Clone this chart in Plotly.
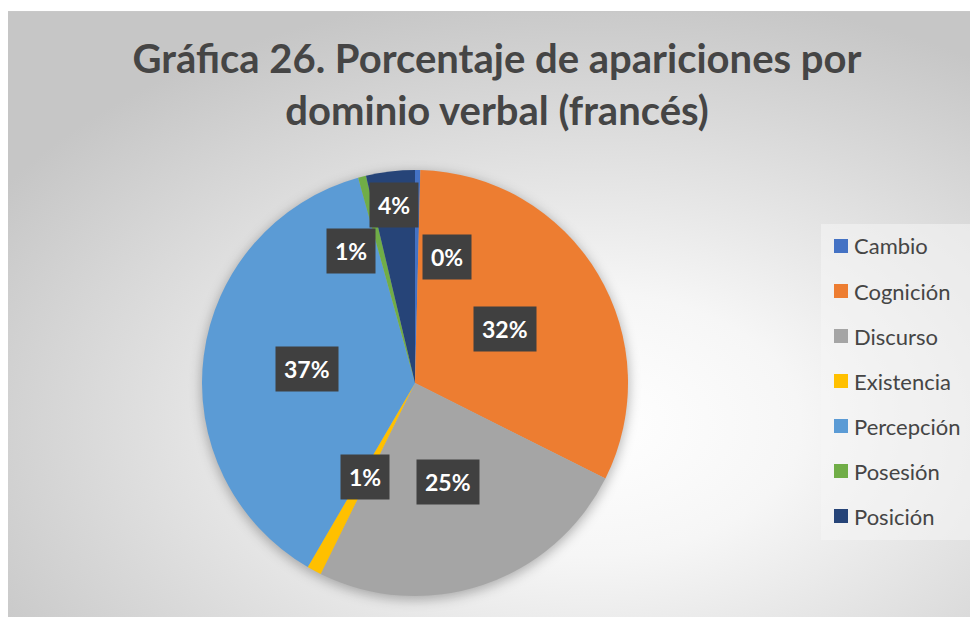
import base64
import math
import plotly.graph_objects as go

# ---------------- data ----------------
labels = ["Cambio", "Cognición", "Discurso", "Existencia", "Percepción", "Posesión", "Posición"]
values = [0.4, 32.0, 24.9, 1.1, 37.3, 0.6, 3.7]
colors = ["#4472C4", "#ED7D31", "#A5A5A5", "#FFC000", "#5B9BD5", "#70AD47", "#264478"]
title_text = "Gráfica 26. Porcentaje de apariciones por<br>dominio verbal (francés)"

# ---------------- layout constants (page pixels) ----------------
PW, PH = 978, 617          # browser window
OFF = 8                    # default body margin of the html page
FW, FH = PW - OFF, PH - OFF
CX, CY, R = 415, 383, 213  # pie centre / radius in page pixels
label_r = [0.61, 0.49, 0.49, 0.50, 0.51, 0.69, 0.84]
label_dt = [13.5, 0, 0, 0, 0, -11.6, 0]
TEXT_COLOR = "#454545"


def px(x):
    return (x - OFF) / FW


def py(y):
    return 1 - (y - OFF) / FH


# background: radial gradient + soft pie shadow (svg image)
bx, by = 7, 11
bw, bh = PW - bx + 2, PH - by + 2
svg = f'''<svg xmlns="http://www.w3.org/2000/svg" width="{bw}" height="{bh}" viewBox="0 0 {bw} {bh}">
<defs>
<radialGradient id="g" gradientUnits="objectBoundingBox" cx="0.60" cy="0.68" r="0.72">
<stop offset="0" stop-color="#ffffff"/>
<stop offset="0.30" stop-color="#f6f6f6"/>
<stop offset="1" stop-color="#c6c6c6"/>
</radialGradient>
<filter id="b" x="-20%" y="-20%" width="140%" height="140%"><feGaussianBlur stdDeviation="6"/></filter>
</defs>
<rect x="0.5" y="0.5" width="{bw-1}" height="{bh-1}" fill="url(#g)" stroke="#c8c8c8" stroke-width="1"/>
<circle cx="{CX-bx}" cy="{CY-by+3}" r="{R+1}" fill="#000" fill-opacity="0.28" filter="url(#b)"/>
</svg>'''
src = "data:image/svg+xml;base64," + base64.b64encode(svg.encode("utf-8")).decode("ascii")

fig = go.Figure()
fig.add_trace(go.Pie(
    labels=labels,
    values=values,
    sort=False,
    direction="clockwise",
    rotation=0,
    marker=dict(colors=colors, line=dict(width=0)),
    textinfo="none",
    hoverinfo="label+percent",
    domain=dict(x=[px(CX - R), px(CX + R)], y=[py(CY + R), py(CY - R)]),
    showlegend=False,
))

annotations = []
shapes = []
total = sum(values)
cum = 0.0
for i, v in enumerate(values):
    ang = math.radians((cum + v / 2) / total * 360 + label_dt[i])
    cum += v
    lx = CX + label_r[i] * R * math.sin(ang)
    ly = CY - label_r[i] * R * math.cos(ang)
    annotations.append(dict(
        x=px(lx), y=py(ly), xref="paper", yref="paper", xanchor="center", yanchor="middle",
        text=f"<b>{v / total * 100:.0f}%</b>", showarrow=False,
        font=dict(family="Lato", size=23, color="#ffffff"),
        bgcolor="#404040", borderpad=8,
    ))

# legend (built from labels/colors)
shapes.append(dict(type="rect", xref="paper", yref="paper", x0=px(821), x1=px(972), y0=py(540), y1=py(224),
                   fillcolor="rgba(245,245,245,0.55)", line=dict(width=0), layer="below"))
for i, (lab, col) in enumerate(zip(labels, colors)):
    yc = 246 + 45 * i
    shapes.append(dict(type="rect", xref="paper", yref="paper", x0=px(834), x1=px(848),
                       y0=py(yc + 7), y1=py(yc - 7), fillcolor=col, line=dict(width=0)))
    annotations.append(dict(x=px(852), y=py(yc), xref="paper", yref="paper", xanchor="left", yanchor="middle",
                            text=lab, showarrow=False, font=dict(family="Lato", size=22, color=TEXT_COLOR)))

fig.update_layout(
    width=FW, height=FH,
    margin=dict(l=0, r=0, t=0, b=0),
    paper_bgcolor="#ffffff",
    title=dict(text=f"<b>{title_text}</b>", x=px(497), xanchor="center", xref="paper",
               y=py(73), yanchor="middle", yref="paper",
               font=dict(family="Lato", size=40, color=TEXT_COLOR)),
    images=[dict(source=src, xref="paper", yref="paper", x=px(bx), y=py(by), sizex=bw / FW, sizey=bh / FH,
                 xanchor="left", yanchor="top", sizing="stretch", layer="below")],
    shapes=shapes,
    annotations=annotations,
    showlegend=False,
)

fig.write_html("out.html")
